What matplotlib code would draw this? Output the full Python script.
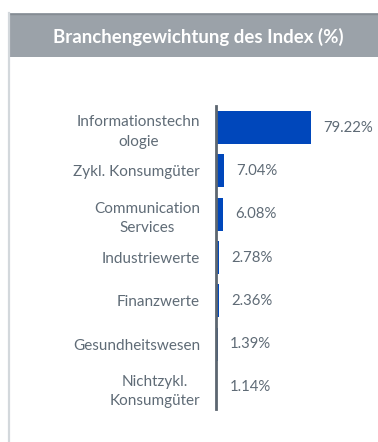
import matplotlib
matplotlib.use("Agg")
import matplotlib.pyplot as plt
from matplotlib.patches import Rectangle
from matplotlib.lines import Line2D

# Daten
branchen = ["Informationstechn\nologie", "Zykl. Konsumgüter", "Communication\nServices",
            "Industriewerte", "Finanzwerte", "Gesundheitswesen", "Nichtzykl.\nKonsumgüter"]
gewichte = [79.22, 7.04, 6.08, 2.78, 2.36, 1.39, 1.14]
titel = "Branchengewichtung des Index (%)"

plt.rcParams['font.family'] = ['Lato', 'DejaVu Sans']

W, H = 378, 442
fig = plt.figure(figsize=(W/100, H/100), dpi=100)
fig.patch.set_facecolor("white")

# Kopfzeile und Rahmen
fig.add_artist(Rectangle((9/W, 1-57/H), 1-9/W, 44/H, transform=fig.transFigure,
                         facecolor="#9ba2a9", edgecolor="none"))
fig.add_artist(Line2D([9/W, 1], [1-13.5/H, 1-13.5/H], transform=fig.transFigure,
                      color="#858c93", lw=1.0))
fig.add_artist(Line2D([9/W, 9/W], [0, 1-13/H], transform=fig.transFigure,
                      color="#d3d8dc", lw=1.6))
fig.text(198/W, 1-37/H, titel, color="white", fontsize=13.4, fontweight="bold",
         ha="center", va="center")

ax = fig.add_axes([216/W, 33/H, 150/W, 303/H])
y = range(len(branchen))
ax.barh(y, gewichte, height=0.76, color="#0047bb", zorder=2)
ax.set_xlim(0, 125)
ax.set_ylim(len(branchen)-0.5, -0.5)

for s in ["top", "right", "bottom"]:
    ax.spines[s].set_visible(False)
ax.spines["left"].set_color("#5c6670")
ax.spines["left"].set_linewidth(2.0)
ax.spines["left"].set_zorder(3)
ax.set_xticks([])
ax.set_yticks(list(y))
ax.set_yticklabels(branchen, fontsize=11, color="#5f6b76", linespacing=1.5,
                   ha="right", multialignment="center")
ax.tick_params(axis="y", length=0, pad=11.5)

for i, v in enumerate(gewichte):
    ax.annotate(f"{v:.2f}%", (v, i), xytext=(12, 0), textcoords="offset pixels",
                va="center", ha="left", fontsize=10.7, color="#5f6b76")

fig.savefig("out.png", dpi=100)
